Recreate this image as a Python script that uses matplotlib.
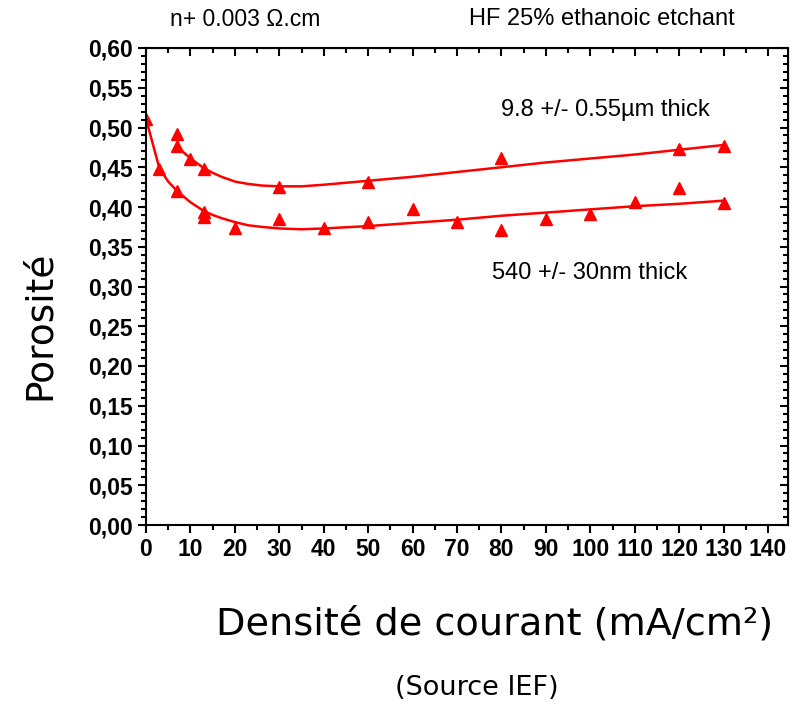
import matplotlib.pyplot as plt
from matplotlib.ticker import MultipleLocator

# mesures - couche epaisse (9.8 um)
x_epais = [7, 7, 10, 13, 30, 50, 80, 120, 130]
y_epais = [0.492, 0.477, 0.460, 0.448, 0.425, 0.432, 0.462, 0.473, 0.477]

# mesures - couche mince (540 nm)
x_mince = [0, 3, 7, 13, 13, 20, 30, 40, 50, 60, 70, 80, 90, 100, 110, 120, 130]
y_mince = [0.511, 0.448, 0.420, 0.394, 0.388, 0.373, 0.385, 0.374, 0.381,
           0.397, 0.381, 0.371, 0.385, 0.391, 0.406, 0.424, 0.405]

# courbes d'ajustement
x_fit_epais = [7, 9, 11, 13, 15, 17, 20, 23, 26, 30, 35, 40, 50, 60, 70, 80, 90, 100, 110, 120, 130]
y_fit_epais = [0.476, 0.466, 0.457, 0.449, 0.443, 0.438, 0.432, 0.429, 0.427, 0.426, 0.426,
               0.428, 0.433, 0.438, 0.444, 0.450, 0.456, 0.461, 0.466, 0.472, 0.478]

x_fit_mince = [0, 3, 5, 7, 10, 13, 15, 17, 20, 23, 26, 30, 35, 40, 50, 60, 70, 80, 90, 100, 110, 120, 130]
y_fit_mince = [0.511, 0.449, 0.432, 0.420, 0.406, 0.395, 0.390, 0.386, 0.381, 0.377, 0.375,
               0.373, 0.372, 0.373, 0.376, 0.380, 0.384, 0.389, 0.393, 0.397, 0.401, 0.404, 0.408]

rouge = '#ff0000'
W, H = 794, 702

fig = plt.figure(figsize=(W / 100, H / 100), dpi=100)
ax = fig.add_axes([146 / W, 1 - 525 / H, (788 - 146) / W, (525 - 48) / H])

ax.plot(x_fit_epais, y_fit_epais, color=rouge, lw=1.8)
ax.plot(x_fit_mince, y_fit_mince, color=rouge, lw=1.8)
ax.plot(x_epais, y_epais, '^', color=rouge, ms=9, mec=rouge)
ax.plot(x_mince, y_mince, '^', color=rouge, ms=9, mec=rouge)

ax.set_xlim(0, 144.5)
ax.set_ylim(0, 0.6)
ax.xaxis.set_major_locator(MultipleLocator(10))
ax.xaxis.set_minor_locator(MultipleLocator(5))
ax.yaxis.set_major_locator(MultipleLocator(0.05))
ax.yaxis.set_minor_locator(MultipleLocator(0.01))
ax.set_yticks(ax.get_yticks())
ax.set_yticklabels([f'{v:.2f}'.replace('.', ',') for v in ax.get_yticks()])
ax.set_ylim(0, 0.6)

for s in ax.spines.values():
    s.set_linewidth(1.5)

ax.tick_params(which='both', direction='out', width=1.5, labelsize=16.5)
ax.tick_params(which='major', length=6)
ax.tick_params(which='minor', length=3.5)
for lab in ax.get_xticklabels() + ax.get_yticklabels():
    lab.set_fontweight('bold')
    lab.set_fontfamily('Liberation Sans')

# ticks interieurs en haut et a droite
ax_top = ax.secondary_xaxis('top')
ax_top.xaxis.set_major_locator(MultipleLocator(10))
ax_top.xaxis.set_minor_locator(MultipleLocator(5))
ax_top.tick_params(which='both', direction='in', width=1.5, labeltop=False)
ax_top.tick_params(which='major', length=6)
ax_top.tick_params(which='minor', length=3.5)
ax_right = ax.secondary_yaxis('right')
ax_right.yaxis.set_major_locator(MultipleLocator(0.05))
ax_right.yaxis.set_minor_locator(MultipleLocator(0.01))
ax_right.tick_params(which='both', direction='in', width=1.5, labelright=False)
ax_right.tick_params(which='major', length=6)
ax_right.tick_params(which='minor', length=3.5)


def texte(x, y, s, **kw):
    # position en pixels depuis le coin haut gauche
    fig.text(x / W, 1 - y / H, s, ha='center', va='center', **kw)


texte(605, 110, '9.8 +/- 0.55µm thick', fontsize=17, family='Liberation Sans')
texte(590, 273, '540 +/- 30nm thick', fontsize=17, family='Liberation Sans')

texte(245, 19, 'n+ 0.003 Ω.cm', fontsize=16.5, family='Liberation Sans')
texte(602, 19, 'HF 25% ethanoic etchant', fontsize=17, family='Liberation Sans')

texte(40, 325, 'Porosité', fontsize=27, rotation=90, family='DejaVu Sans')
texte(495, 625, 'Densité de courant (mA/cm²)', fontsize=27.5, family='DejaVu Sans')
texte(477, 688, '(Source IEF)', fontsize=19.5, family='DejaVu Sans')

fig.savefig('out.png', dpi=100)
